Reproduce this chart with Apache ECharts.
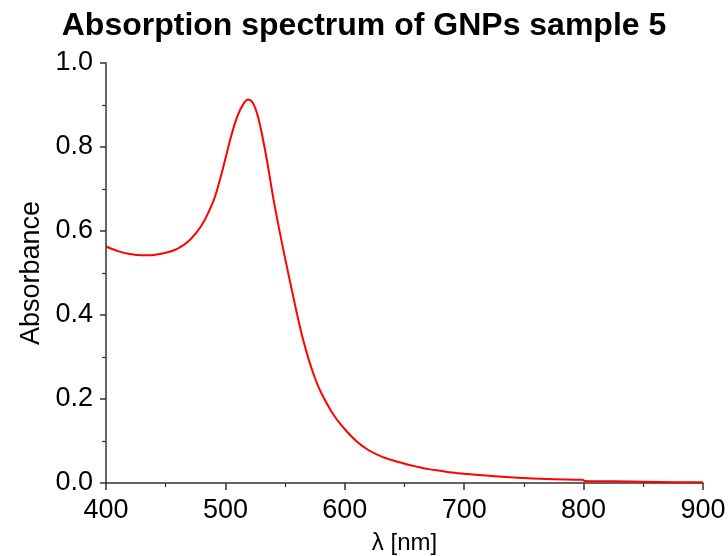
<!DOCTYPE html>
<html>
<head>
<meta charset="utf-8">
<title>Absorption spectrum of GNPs sample 5</title>
<script src="https://cdn.jsdelivr.net/npm/echarts@6/dist/echarts.min.js"></script>
<style>
  html, body { margin: 0; padding: 0; background: #fff; }
  #chart { width: 728px; height: 556px; }
</style>
</head>
<body>
<div id="chart"></div>
<script>
// wavelength (nm) and absorbance
var wavelength = [400, 410, 420, 430, 440, 450, 460, 470, 480, 490, 495, 500, 505, 510, 515, 519, 523, 527, 531, 535, 540, 545, 550, 555, 560, 565, 570, 575, 580, 590, 600, 610, 620, 630, 640, 650, 660, 670, 680, 690, 700, 725, 750, 775, 799, 801, 825, 850, 875, 900];
var absorbance = [0.563, 0.552, 0.545, 0.542, 0.543, 0.548, 0.558, 0.578, 0.613, 0.672, 0.718, 0.772, 0.828, 0.873, 0.902, 0.913, 0.905, 0.875, 0.825, 0.765, 0.680, 0.605, 0.535, 0.468, 0.402, 0.342, 0.292, 0.250, 0.216, 0.165, 0.128, 0.099, 0.078, 0.064, 0.054, 0.046, 0.039, 0.033, 0.029, 0.025, 0.022, 0.016, 0.012, 0.009, 0.0075, 0.005, 0.004, 0.003, 0.002, 0.0015];

var xTicks = [400, 500, 600, 700, 800, 900];
var yTicks = [0, 0.2, 0.4, 0.6, 0.8, 1.0];

var points = wavelength.map(function (w, i) { return [w, absorbance[i]]; });

var font = "'Liberation Sans', Arial, sans-serif";

var myChart = echarts.init(document.getElementById('chart'));

var option = {
  animation: false,
  title: {
    text: 'Absorption spectrum of GNPs sample 5',
    left: 'center',
    top: 5,
    textStyle: { fontFamily: font, fontSize: 32, fontWeight: 'bold', color: '#000' }
  },
  grid: { left: 106, right: 25, top: 63, bottom: 73, outerBoundsMode: 'none' },
  xAxis: {
    type: 'value',
    min: xTicks[0],
    max: xTicks[xTicks.length - 1],
    interval: 100,
    name: 'λ [nm]',
    nameLocation: 'middle',
    nameGap: 48,
    nameTextStyle: { fontFamily: font, fontSize: 24, color: '#000' },
    axisLine: { lineStyle: { color: '#333', width: 1.5 } },
    axisTick: { length: 7, lineStyle: { color: '#333', width: 1.5 } },
    minorTick: { show: true, splitNumber: 2, length: 4, lineStyle: { color: '#333', width: 1.2 } },
    axisLabel: { fontFamily: font, fontSize: 27, color: '#000', margin: 14 },
    splitLine: { show: false }
  },
  yAxis: {
    type: 'value',
    min: yTicks[0],
    max: yTicks[yTicks.length - 1],
    interval: 0.2,
    name: 'Absorbance',
    nameLocation: 'middle',
    nameGap: 58,
    nameTextStyle: { fontFamily: font, fontSize: 27, color: '#000' },
    axisLine: { show: true, lineStyle: { color: '#333', width: 1.5 } },
    axisTick: { show: true, length: 6, lineStyle: { color: '#333', width: 1.5 } },
    minorTick: { show: true, splitNumber: 2, length: 4, lineStyle: { color: '#333', width: 1.2 } },
    axisLabel: {
      fontFamily: font, fontSize: 27, color: '#000', margin: 13,
      formatter: function (v) { return v.toFixed(1); }
    },
    splitLine: { show: false }
  },
  series: [{
    type: 'line',
    data: points,
    smooth: 0.35,
    showSymbol: false,
    lineStyle: { color: '#ff0000', width: 2 }
  }]
};

myChart.setOption(option);
</script>
</body>
</html>
